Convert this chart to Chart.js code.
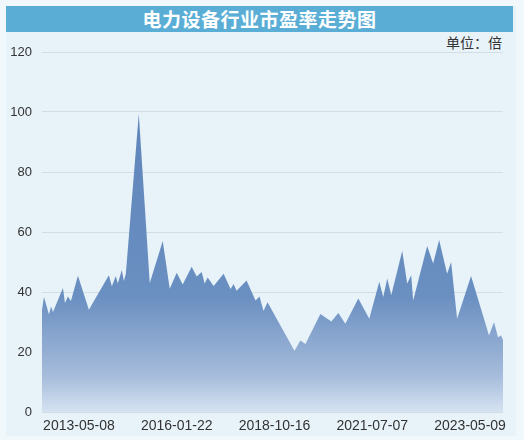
<!DOCTYPE html>
<html>
<head>
<meta charset="utf-8">
<script src="https://cdn.jsdelivr.net/npm/chart.js@4.4.1/dist/chart.umd.min.js"></script>
<style>
  html, body { margin: 0; padding: 0; }
  body { width: 524px; height: 440px; background: #f1f8fc; position: relative; overflow: hidden; }
  #panel { position: absolute; left: 6px; top: 6px; width: 510px; height: 430px; background: #e7f2f9; }
  #title {
    position: absolute; left: 6px; top: 6px; width: 507px; height: 26px;
    background: #5aaed6; color: #fff; text-align: center;
    font: bold 19px "Noto Sans CJK SC", sans-serif; line-height: 26px; letter-spacing: 0.5px;
  }
  #unit {
    position: absolute; right: 22px; top: 32px;
    font: 14px "Noto Sans CJK SC", sans-serif; color: #333;
  }
  #wrap { position: absolute; left: 0; top: 0; width: 524px; height: 440px; }
</style>
</head>
<body>
<div id="panel"></div>
<div id="title">电力设备行业市盈率走势图</div>
<div id="unit">单位：倍</div>
<div id="wrap"><canvas id="peChart"></canvas></div>
<script>
// x = sample position along the series, y = P/E ratio (倍)
const sampleIdx = [
  0, 2, 7, 9, 11, 21, 23, 26, 29, 36, 47, 67, 70, 74, 76, 80, 82, 84,
  97, 108, 121, 128, 135, 141, 150, 155, 160, 163, 166, 172, 182, 189,
  192, 195, 205, 214, 218, 222, 226, 253, 259, 264, 279, 290, 297, 304,
  317, 328, 338, 342, 346, 350, 361, 366, 370, 372, 386, 392, 398, 406,
  410, 416, 430, 448, 453, 457, 460, 462
];
const peValues = [
  34, 38.3, 32.5, 35.2, 33.3, 41.3, 36.3, 38.5, 37, 45.4, 34.1, 45.6, 41.9, 45.3, 42.8, 47.3, 43.7, 46,
  99.3, 43, 57, 41.1, 46.4, 42.5, 48.4, 45.2, 46.7, 42.8, 44.8, 42, 46.1, 41,
  42.7, 40.4, 43.8, 37.2, 38.5, 33.7, 36.6, 20.4, 23.8, 22.7, 32.7, 30.2, 33, 29.4,
  37.8, 31.1, 43.4, 38.3, 44.5, 38.9, 53.7, 42.8, 45.6, 37.2, 55.3, 49.5, 57.3, 46.1,
  50, 31.1, 45.3, 25.5, 29.9, 24.9, 25.5, 24
];
const tickDates = ['2013-05-08', '2016-01-22', '2018-10-16', '2021-07-07', '2023-05-09'];
const tickIdx = [37, 135, 233, 331, 429];
const yTicks = [0, 20, 40, 60, 80, 100, 120];

const points = sampleIdx.map((x, i) => ({ x: x, y: peValues[i] }));

function areaFill(context) {
  const chart = context.chart;
  const area = chart.chartArea;
  if (!area) return '#6a8fc0';
  const g = chart.ctx.createLinearGradient(0, area.top, 0, area.bottom);
  g.addColorStop(0, '#5b82b9');
  g.addColorStop(0.68, '#6a8fc1');
  g.addColorStop(0.9, '#a6bcdb');
  g.addColorStop(1, '#d6e2f1');
  return g;
}

new Chart(document.getElementById('peChart'), {
  type: 'line',
  data: {
    datasets: [{
      data: points,
      fill: 'origin',
      backgroundColor: areaFill,
      borderWidth: 0,
      pointRadius: 0,
      tension: 0
    }]
  },
  options: {
    responsive: true,
    maintainAspectRatio: false,
    animation: false,
    layout: { padding: { left: 0, right: 21, top: 52, bottom: 0 } },
    plugins: { legend: { display: false }, tooltip: { enabled: false } },
    scales: {
      x: {
        type: 'linear',
        min: 0,
        max: 462,
        grid: { display: false, drawTicks: false },
        border: { display: false },
        afterBuildTicks: (scale) => { scale.ticks = tickIdx.map(v => ({ value: v })); },
        afterFit: (scale) => { scale.height = 28; },
        ticks: {
          autoSkip: false,
          maxRotation: 0,
          padding: 6,
          color: '#333',
          font: { family: 'Liberation Sans', size: 14 },
          callback: (value) => tickDates[tickIdx.indexOf(value)]
        }
      },
      y: {
        min: 0,
        max: 120,
        afterBuildTicks: (scale) => { scale.ticks = yTicks.map(v => ({ value: v })); },
        afterFit: (scale) => { scale.width = 42; },
        grid: { color: '#d3dde3', lineWidth: 1, drawTicks: false },
        border: { display: false },
        ticks: {
          padding: 10,
          color: '#333',
          font: { family: 'Liberation Sans', size: 13 }
        }
      }
    }
  }
});
</script>
</body>
</html>
